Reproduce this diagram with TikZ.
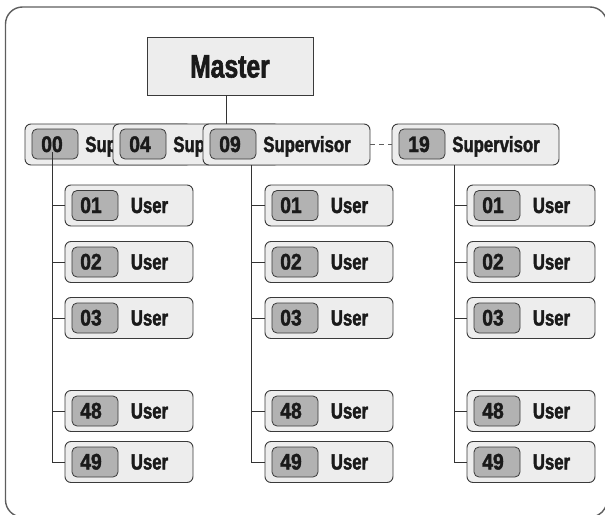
\documentclass[tikz,border=0pt]{standalone}
\usepackage{fontspec}
\setmainfont{Liberation Sans Bold}[FakeStretch=0.76, FakeBold=1.8]
\newfontfamily\numfont{Liberation Sans Bold}[FakeStretch=0.86, FakeBold=1.8]
\definecolor{framec}{HTML}{5E5E5E}
\definecolor{boxfill}{HTML}{EDEDED}
\definecolor{numfill}{HTML}{B2B2B2}
\definecolor{boxline}{HTML}{3A3A3A}
\definecolor{txt}{HTML}{1A1A1A}
\definecolor{conn}{HTML}{333333}
\tikzset{
  outerbox/.style={draw=boxline, fill=boxfill, rounded corners=6pt, line width=0.9pt, inner sep=0pt},
  numbox/.style={draw=boxline, fill=numfill, rounded corners=5pt, line width=0.8pt, inner sep=0pt, minimum width=46pt, minimum height=30pt},
  lbl/.style={font=\fontsize{22}{24}\selectfont, text=txt, inner sep=0pt, anchor=base},
  numlbl/.style={font=\numfont\fontsize{22.5}{24}\selectfont, text=txt, inner sep=0pt, anchor=base},
  connline/.style={draw=conn, line width=0.9pt},
  frameline/.style={draw=framec, line width=1.4pt, rounded corners=17pt}
}
\newcommand\mysup[4]{% name, left x, number, visible width of label
  \node[outerbox, minimum width=167pt, minimum height=41pt] (s#1) at (#2+83.5,144.5) {};
  \node[numbox] (s#1n) at (#2+30,144) {};
  \node[numlbl] (s#1t) at (#2+27,152) {#3};
  \begin{scope}
    \clip (#2,120) rectangle (#2+#4,170);
    \node[lbl] (s#1l) at (#2+104,152) {Supervisor};
  \end{scope}
}
\newcommand\myuser[4]{% name, left x, center y, number
  \node[outerbox, minimum width=128pt, minimum height=41pt] (u#1) at (#2+64,#3) {};
  \node[numbox] (u#1n) at (#2+30,#3) {};
  \node[numlbl] (u#1t) at (#2+26,#3+7.5) {#4};
  \node[lbl] (u#1l) at (#2+84.5,#3+7.5) {User};
}
\begin{document}
\begin{tikzpicture}[x=1pt,y=-1pt]
\useasboundingbox (0,0) rectangle (605,514);
\draw[frameline] (5.5,7) rectangle (607,517);
% master
\node[draw=boxline, fill=boxfill, line width=0.9pt, minimum width=166pt, minimum height=58pt, inner sep=0pt] (master) at (230,66) {};
\node[font=\fontsize{32.5}{34}\selectfont, text=txt, inner sep=0pt, anchor=base] (masterl) at (230,77.5) {Master};
% supervisors
\mysup{00}{25}{00}{88}
\mysup{04}{113}{04}{90}
\mysup{09}{203}{09}{167}
\mysup{19}{392}{19}{167}
% master connection
\coordinate (mx) at (226,95);
\draw[connline] (mx) -- (mx |- s09.north);
% dashed link
\draw[draw=framec, line width=0.9pt, dash pattern=on 5pt off 4pt] (s09.east) -- (s19.west);
% columns
\coordinate (v1top) at (52,152);
\coordinate (v1bot) at (52,463);
\coordinate (v2bot) at (251,463);
\coordinate (v3bot) at (454,463);
\draw[connline] (v1top) -- (v1bot);
\draw[connline] (s09.south -| v2bot) -- (v2bot);
\draw[connline] (s19.south -| v3bot) -- (v3bot);
\foreach \c/\L/\v in {a/65/v1bot, b/265/v2bot, c/467/v3bot}{
  \foreach \n/\y in {01/205.5, 02/262, 03/318, 48/411, 49/462}{
    \myuser{\c\n}{\L}{\y}{\n}
    \draw[connline] (u\c\n.west -| \v) -- (u\c\n.west);
  }
}
\end{tikzpicture}
\end{document}
